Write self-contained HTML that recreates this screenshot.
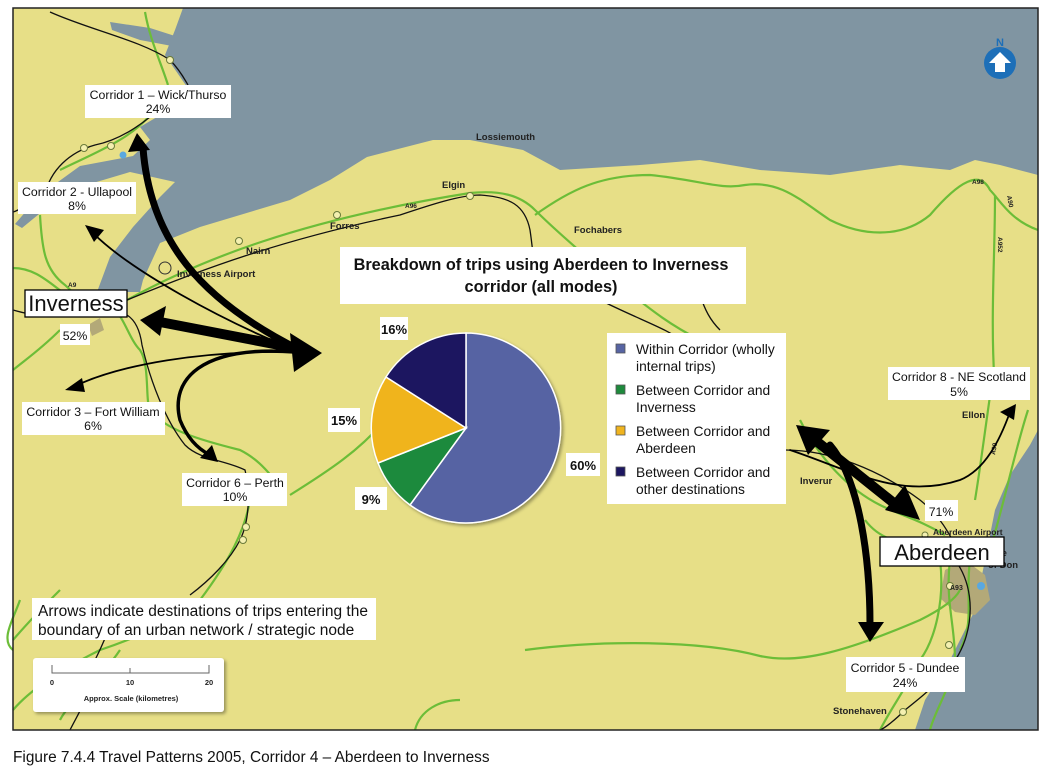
<!DOCTYPE html>
<html><head><meta charset="utf-8"><style>
html,body{margin:0;padding:0;background:#fff;width:1050px;height:773px;overflow:hidden}
svg{display:block}
text{font-family:"Liberation Sans",Arial,sans-serif}
</style></head><body>
<svg width="1050" height="773" viewBox="0 0 1050 773" xmlns="http://www.w3.org/2000/svg">
<defs>
<filter id="sh" x="-10%" y="-10%" width="130%" height="130%"><feDropShadow dx="2" dy="2" stdDeviation="1.5" flood-color="#000" flood-opacity="0.35"/></filter>
</defs>
<rect x="13" y="8" width="1025" height="722" fill="#e7df87"/>
<path fill="#8095a2" d="M183,8 L1038,8 L1038,175 L1000,165 L975,160 L950,170 L900,165 L830,175 L760,170 L700,160 L640,165 L560,170 L523,150 L470,140 L433,140 L367,157 L330,180 L290,200 L240,215 L200,227 L160,243 L143,280 L140,292 L97,292 L110,257 L133,227 L160,197 L175,182 L130,172 L83,186 L50,205 L22,228 L15,224 L40,195 L80,166 L133,156 L150,140 L140,127 L157,117 L187,87 L165,55 L175,30 Z"/>
<path fill="#8095a2" d="M110,22 L150,28 L175,36 L172,46 L140,40 L112,30 Z"/>
<path fill="#8095a2" d="M1038,430 L1030,445 L1010,475 L995,510 L985,560 L975,610 L950,660 L925,700 L915,730 L1038,730 Z"/>
<path fill="#b3a978" d="M945,570 L965,560 L985,575 L990,600 L975,615 L955,612 L940,598 Z"/>
<path fill="#b3a978" d="M88,325 L100,318 L104,330 L92,336 Z"/>
<g fill="none" stroke="#6cbd38" stroke-width="2.2">
<path d="M145,12 C150,40 160,60 168,85"/>
<path d="M60,170 C90,155 130,140 150,115"/>
<path d="M40,215 C42,250 45,270 65,285 C80,300 100,310 125,316"/>
<path d="M13,268 C40,268 55,290 75,300"/>
<path d="M115,310 C125,320 130,340 140,350 C150,365 145,400 150,410 C165,430 200,440 240,450 C260,460 270,475 275,480"/>
<path d="M60,330 C40,350 25,360 13,370"/>
<path d="M127,300 C200,260 300,220 470,193 C500,190 520,195 535,210 C560,235 580,250 600,270 C640,300 660,320 700,340"/>
<path d="M535,215 C570,190 600,175 650,175 C700,180 720,190 745,185 C780,180 800,200 830,220 C860,235 900,240 930,215 C960,180 980,170 990,190 C1000,200 1010,220 1038,230"/>
<path d="M995,195 C995,260 990,320 995,390"/>
<path d="M993,375 C985,430 980,470 975,500"/>
<path d="M1028,410 C1015,450 1005,500 990,550"/>
<path d="M290,495 C330,470 360,450 385,420"/>
<path d="M250,500 C245,530 230,560 200,600 C180,620 130,640 100,650 C60,670 30,690 13,710"/>
<path d="M13,640 C30,620 50,600 60,590"/>
<path d="M60,720 C70,700 100,680 120,650"/>
<path d="M13,650 C0,640 13,620 20,600"/>
<path d="M525,650 C600,640 700,640 760,656 C800,665 850,650 920,620 C940,610 955,600 960,590"/>
<path d="M800,420 C820,460 850,490 880,505 C900,515 920,520 945,535"/>
<path d="M865,520 C880,540 900,545 940,545"/>
<path d="M950,560 C945,600 955,625 955,660 C950,690 935,710 930,730"/>
<path d="M970,560 C965,600 975,620 960,650"/>
<path d="M940,560 C945,600 935,640 920,660 C905,690 890,710 880,730"/>
<path d="M415,730 C420,710 440,700 460,700"/>
</g>
<g fill="none" stroke="#111" stroke-width="1.3">
<path d="M50,12 C90,30 140,40 170,60 C180,70 185,80 188,85"/>
<path d="M150,117 C140,125 120,140 95,145 C70,152 50,170 45,195"/>
<path d="M13,212 C20,210 25,205 28,200"/>
<path d="M127,300 C200,270 280,240 400,215 C430,205 460,195 480,195 C510,197 525,205 530,230 C533,250 535,275 538,300"/>
<path d="M13,310 C20,312 30,315 40,315"/>
<path d="M127,315 C135,320 140,330 142,345 C150,380 165,420 185,445 C200,460 225,460 245,470 C250,490 250,520 240,540 C230,560 210,580 190,595"/>
<path d="M110,625 C105,640 100,650 95,660"/>
<path d="M70,730 C75,720 80,712 85,700"/>
<path d="M600,300 C640,320 670,330 680,340"/>
<path d="M700,295 C705,310 710,320 720,330"/>
<path d="M785,450 C830,450 880,470 920,500 C935,512 945,525 955,545"/>
<path d="M955,560 C970,580 975,610 965,640 C955,670 930,690 905,710 C895,720 885,728 880,730"/>
</g>
<g fill="#f4f0b0" stroke="#6a7a3a" stroke-width="1">
<circle cx="170" cy="60" r="3.5"/><circle cx="84" cy="148" r="3.5"/><circle cx="111" cy="146" r="3.5"/>
<circle cx="239" cy="241" r="3.5"/><circle cx="337" cy="215" r="3.5"/><circle cx="470" cy="196" r="3.5"/>
<circle cx="246" cy="527" r="3.5"/><circle cx="243" cy="540" r="3.5"/><circle cx="950" cy="586" r="3.5"/>
<circle cx="949" cy="645" r="3.5"/><circle cx="903" cy="712" r="3.5"/><circle cx="925" cy="535" r="3"/>
</g>
<circle cx="123" cy="155" r="3.5" fill="#5aa8e0"/>
<circle cx="981" cy="586" r="4" fill="#5aa8e0"/>
<circle cx="165" cy="268" r="6" fill="none" stroke="#333" stroke-width="1"/>
<g font-size="9.5" font-weight="bold" fill="#222">
<text x="476" y="140">Lossiemouth</text>
<text x="442" y="188">Elgin</text>
<text x="330" y="229">Forres</text>
<text x="246" y="254">Nairn</text>
<text x="177" y="277">Inverness Airport</text>
<text x="574" y="233">Fochabers</text>
<text x="962" y="418">Ellon</text>
<text x="800" y="484">Inverur</text>
<text x="833" y="714">Stonehaven</text>
<text x="988" y="568">of Don</text>
<text x="990" y="556">dge</text>
<text x="933" y="535" font-size="8.5">Aberdeen Airport</text>
<text x="405" y="208" font-size="6.5">A96</text>
<text x="68" y="287" font-size="6.5">A9</text>
<text x="972" y="184" font-size="6.5">A98</text>
<text x="950" y="590" font-size="7">A93</text>
<text transform="translate(1007,196) rotate(80)" font-size="6.5">A90</text>
<text transform="translate(998,237) rotate(90)" font-size="6.5">A952</text>
<text transform="translate(995,455) rotate(-80)" font-size="6.5">A90</text>
</g>
<g fill="none" stroke="#000" stroke-linecap="round">
<path d="M300,350 C200,300 150,240 143,148" stroke-width="7"/>
<path d="M300,352 C220,320 130,270 93,233" stroke-width="1.8"/>
<path d="M160,322 L295,348" stroke-width="10"/>
<path d="M300,352 C200,350 120,365 75,386" stroke-width="1.8"/>
<path d="M295,352 C200,345 170,380 180,420 C188,440 200,450 210,455" stroke-width="3.5"/>
<path d="M815,440 L900,508" stroke-width="10"/>
<path d="M830,445 C860,480 870,560 870,625" stroke-width="7"/>
<path d="M790,450 C850,470 900,500 960,480 C985,470 1000,440 1010,412" stroke-width="1.8"/>
</g>
<g fill="#000">
<polygon points="137,133 128,152 150,150"/>
<polygon points="85,225 104,230 94,242"/>
<polygon points="140,320 166,306 160,336"/>
<polygon points="322,353 290,333 294,372"/>
<polygon points="65,390 82,378 85,392"/>
<polygon points="218,462 200,458 212,445"/>
<polygon points="796,425 830,430 808,455"/>
<polygon points="920,520 885,510 905,485"/>
<polygon points="870,642 858,622 884,622"/>
<polygon points="1016,404 1000,412 1014,420"/>
</g>
<g fill="#fff">
<rect x="85" y="85" width="146" height="33"/>
<rect x="18" y="182" width="118" height="32"/>
<rect x="60" y="324" width="30" height="21"/>
<rect x="22" y="402" width="143" height="33"/>
<rect x="182" y="473" width="105" height="33"/>
<rect x="340" y="247" width="406" height="57"/>
<rect x="380" y="317" width="28" height="23"/>
<rect x="328" y="408" width="32" height="24"/>
<rect x="355" y="487" width="32" height="23"/>
<rect x="566" y="453" width="34" height="23"/>
<rect x="607" y="333" width="179" height="171"/>
<rect x="888" y="367" width="142" height="33"/>
<rect x="925" y="500" width="33" height="21"/>
<rect x="846" y="657" width="119" height="35"/>
<rect x="32" y="598" width="344" height="42"/>
<rect x="33" y="658" width="191" height="54" rx="3" filter="url(#sh)"/>
</g>
<rect x="25" y="290" width="102" height="27" fill="#fff" stroke="#000" stroke-width="1.3"/>
<rect x="880" y="537" width="124" height="29" fill="#fff" stroke="#000" stroke-width="1.3"/>
<g font-size="12.3" fill="#111" text-anchor="middle">
<text x="158" y="99">Corridor 1 – Wick/Thurso</text><text x="158" y="113">24%</text>
<text x="77" y="196">Corridor 2 - Ullapool</text><text x="77" y="210">8%</text>
<text x="75" y="340">52%</text>
<text x="93" y="416">Corridor 3 – Fort William</text><text x="93" y="430">6%</text>
<text x="235" y="487">Corridor 6 – Perth</text><text x="235" y="501">10%</text>
<text x="959" y="381">Corridor 8 - NE Scotland</text><text x="959" y="396">5%</text>
<text x="941" y="516">71%</text>
<text x="905" y="672">Corridor 5 - Dundee</text><text x="905" y="687">24%</text>
</g>
<text x="76" y="311" font-size="22" text-anchor="middle" fill="#111">Inverness</text>
<text x="942" y="560" font-size="22" text-anchor="middle" fill="#111">Aberdeen</text>
<g font-size="16.3" font-weight="bold" text-anchor="middle" fill="#111">
<text x="541" y="270">Breakdown of trips using Aberdeen to Inverness</text>
<text x="541" y="292">corridor (all modes)</text>
</g>
<g filter="url(#sh)" stroke="#fff" stroke-width="1.5">
<path d="M466,428 L466,333 A95,95 0 1 1 410,505 Z" fill="#5764a3"/>
<path d="M466,428 L410,505 A95,95 0 0 1 378,463 Z" fill="#1e8a3c"/>
<path d="M466,428 L378,463 A95,95 0 0 1 386,377 Z" fill="#f0b41f"/>
<path d="M466,428 L386,377 A95,95 0 0 1 466,333 Z" fill="#1c1660"/>
</g>
<g font-size="13" font-weight="bold" text-anchor="middle" fill="#111">
<text x="394" y="334">16%</text><text x="344" y="425">15%</text><text x="371" y="504">9%</text><text x="583" y="470">60%</text>
</g>
<g stroke="#555" stroke-width="0.8">
<rect x="616" y="344" width="9" height="9" fill="#5764a3"/>
<rect x="616" y="385" width="9" height="9" fill="#1e8a3c"/>
<rect x="616" y="426" width="9" height="9" fill="#f0b41f"/>
<rect x="616" y="467" width="9" height="9" fill="#1c1660"/>
</g>
<g font-size="13.8" fill="#111">
<text x="636" y="354">Within Corridor (wholly</text><text x="636" y="371">internal trips)</text>
<text x="636" y="395">Between Corridor and</text><text x="636" y="412">Inverness</text>
<text x="636" y="436">Between Corridor and</text><text x="636" y="453">Aberdeen</text>
<text x="636" y="477">Between Corridor and</text><text x="636" y="494">other destinations</text>
</g>
<g font-size="15.5" fill="#111">
<text x="38" y="616">Arrows indicate destinations of trips entering the</text>
<text x="38" y="635">boundary of an urban network / strategic node</text>
</g>
<path d="M52,665 L52,673 L209,673 L209,665 M130,668 L130,673" fill="none" stroke="#666" stroke-width="1"/>
<g font-size="7.5" font-weight="bold" text-anchor="middle" fill="#222">
<text x="52" y="685">0</text><text x="130" y="685">10</text><text x="209" y="685">20</text>
<text x="131" y="701">Approx. Scale (kilometres)</text>
</g>
<circle cx="1000" cy="63" r="16" fill="#1d6fb8"/>
<polygon points="1000,52 1011,63 1005,63 1005,72 995,72 995,63 989,63" fill="#fff"/>
<text x="1000" y="46" font-size="11" font-weight="bold" fill="#1d6fb8" text-anchor="middle">N</text>
<rect x="13" y="8" width="1025" height="722" fill="none" stroke="#222" stroke-width="1.5"/>
<text x="13" y="762" font-size="15.4" fill="#111">Figure 7.4.4 Travel Patterns 2005, Corridor 4 – Aberdeen to Inverness</text>
</svg>
</body></html>
